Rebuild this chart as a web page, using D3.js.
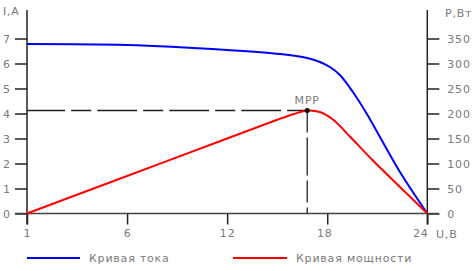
<!DOCTYPE html>
<html><head><meta charset="utf-8">
<script src="https://cdn.jsdelivr.net/npm/d3@7"></script>
<style>
html,body{margin:0;padding:0;background:#fff;}
svg text{font-family:"DejaVu Sans",sans-serif;font-size:11px;fill:#7a7a7a;letter-spacing:0.8px;}
</style></head>
<body><svg id="c" width="473" height="271"></svg>
<script>
const xTicks = [1, 6, 12, 18, 24];
const currentTicks = [0, 1, 2, 3, 4, 5, 6, 7];
const powerTicks = [0, 50, 100, 150, 200, 250, 300, 350];
const currentU = [1, 6, 12, 15.18, 16.8, 17.56, 18.16, 18.76, 19.54, 20.38, 21.16, 22.36, 24];
const currentI = [6.78, 6.74, 6.54, 6.38, 6.22, 6.06, 5.86, 5.54, 4.86, 3.98, 3.06, 1.66, 0];
const powerU = [1, 6, 12, 14.4, 16.0, 16.8, 17.56, 18.34, 19.36, 20.74, 22.36, 24];
const powerP = [0, 75, 150, 180, 199, 206, 203, 188, 154, 106, 53, 0];
const mpp = {u: 16.8, p: 206, label: "MPP"};
const legendLabels = ["Кривая тока", "Кривая мощности"];
const colors = ["#0000ff", "#ff0000"];

const svg = d3.select("#c");
const pLeft = 27, pRight = 427.3, pTop = 38.5, pBottom = 213.5;
const x = d3.scaleLinear().domain(xTicks)
  .range(xTicks.map((d, i) => pLeft + i * (pRight - pLeft) / (xTicks.length - 1)));
const yI = d3.scaleLinear().domain([0, 7]).range([pBottom, pTop]);
const yP = d3.scaleLinear().domain([0, 350]).range([pBottom, pTop]);
const fmt = d3.format("d");

// axes
const gl = svg.append("g").attr("transform", `translate(${pLeft},0)`)
  .call(d3.axisLeft(yI).tickValues(currentTicks).tickFormat(fmt).tickSize(12).tickPadding(5));
const gr = svg.append("g").attr("transform", `translate(${pRight},0)`)
  .call(d3.axisRight(yP).tickValues(powerTicks).tickFormat(fmt).tickSize(12).tickPadding(8));
const gb = svg.append("g").attr("transform", `translate(0,${pBottom})`)
  .call(d3.axisBottom(x).tickValues(xTicks).tickFormat(fmt).tickSize(11).tickPadding(5));
[gl, gr, gb].forEach(g => {
  g.select(".domain").remove();
  g.selectAll(".tick line").attr("stroke", "#222").attr("stroke-width", 1.5);
  g.selectAll(".tick text").attr("fill", null);
  g.attr("font-family", null).attr("font-size", null);
});
gl.attr("text-anchor", "start").selectAll(".tick text").attr("x", -24);
gb.selectAll(".tick text").attr("dx", d => d === 24 ? -7 : d === 18 ? -3 : 0);

svg.append("line").attr("x1", pLeft).attr("x2", pLeft).attr("y1", 10).attr("y2", pBottom + 11)
  .attr("stroke", "#222").attr("stroke-width", 1.5);
svg.append("line").attr("x1", pRight).attr("x2", pRight).attr("y1", 10).attr("y2", pBottom + 11)
  .attr("stroke", "#222").attr("stroke-width", 1.5);
svg.append("line").attr("x1", pLeft - 12).attr("x2", pRight + 12).attr("y1", pBottom).attr("y2", pBottom)
  .attr("stroke", "#444").attr("stroke-width", 1.5);

svg.append("text").attr("x", 3).attr("y", 15).text("I,A");
svg.append("text").attr("x", 445).attr("y", 17).text("P,Вт");
svg.append("text").attr("x", 436).attr("y", 238).text("U,В");

// MPP dashed lines
const mx = x(mpp.u), my = yP(mpp.p);
svg.append("line").attr("x1", mx).attr("x2", pLeft).attr("y1", my).attr("y2", my)
  .attr("stroke", "#222").attr("stroke-width", 1.3).attr("stroke-dasharray", "20,6,40,6");
svg.append("line").attr("x1", mx).attr("x2", mx).attr("y1", my).attr("y2", pBottom)
  .attr("stroke", "#222").attr("stroke-width", 1.3).attr("stroke-dasharray", "22,5,38,5");

// curves
const lineI = d3.line().x(d => x(d[0])).y(d => yI(d[1])).curve(d3.curveCatmullRom.alpha(0.5));
const lineP = d3.line().x(d => x(d[0])).y(d => yP(d[1])).curve(d3.curveCatmullRom.alpha(0.5));
svg.append("path").attr("d", lineI(currentU.map((u, i) => [u, currentI[i]])))
  .attr("fill", "none").attr("stroke", colors[0]).attr("stroke-width", 2);
svg.append("path").attr("d", lineP(powerU.map((u, i) => [u, powerP[i]])))
  .attr("fill", "none").attr("stroke", colors[1]).attr("stroke-width", 2);

svg.append("circle").attr("cx", mx).attr("cy", my).attr("r", 2.5).attr("fill", "#000");
svg.append("text").attr("x", mx).attr("y", 104).attr("text-anchor", "middle").text(mpp.label);

// legend
const lg = [[27, 80, 89], [233, 287, 296]];
legendLabels.forEach((t, i) => {
  svg.append("line").attr("x1", lg[i][0]).attr("x2", lg[i][1]).attr("y1", 258).attr("y2", 258)
    .attr("stroke", colors[i]).attr("stroke-width", 2);
  svg.append("text").attr("x", lg[i][2]).attr("y", 262).text(t);
});
</script></body></html>
